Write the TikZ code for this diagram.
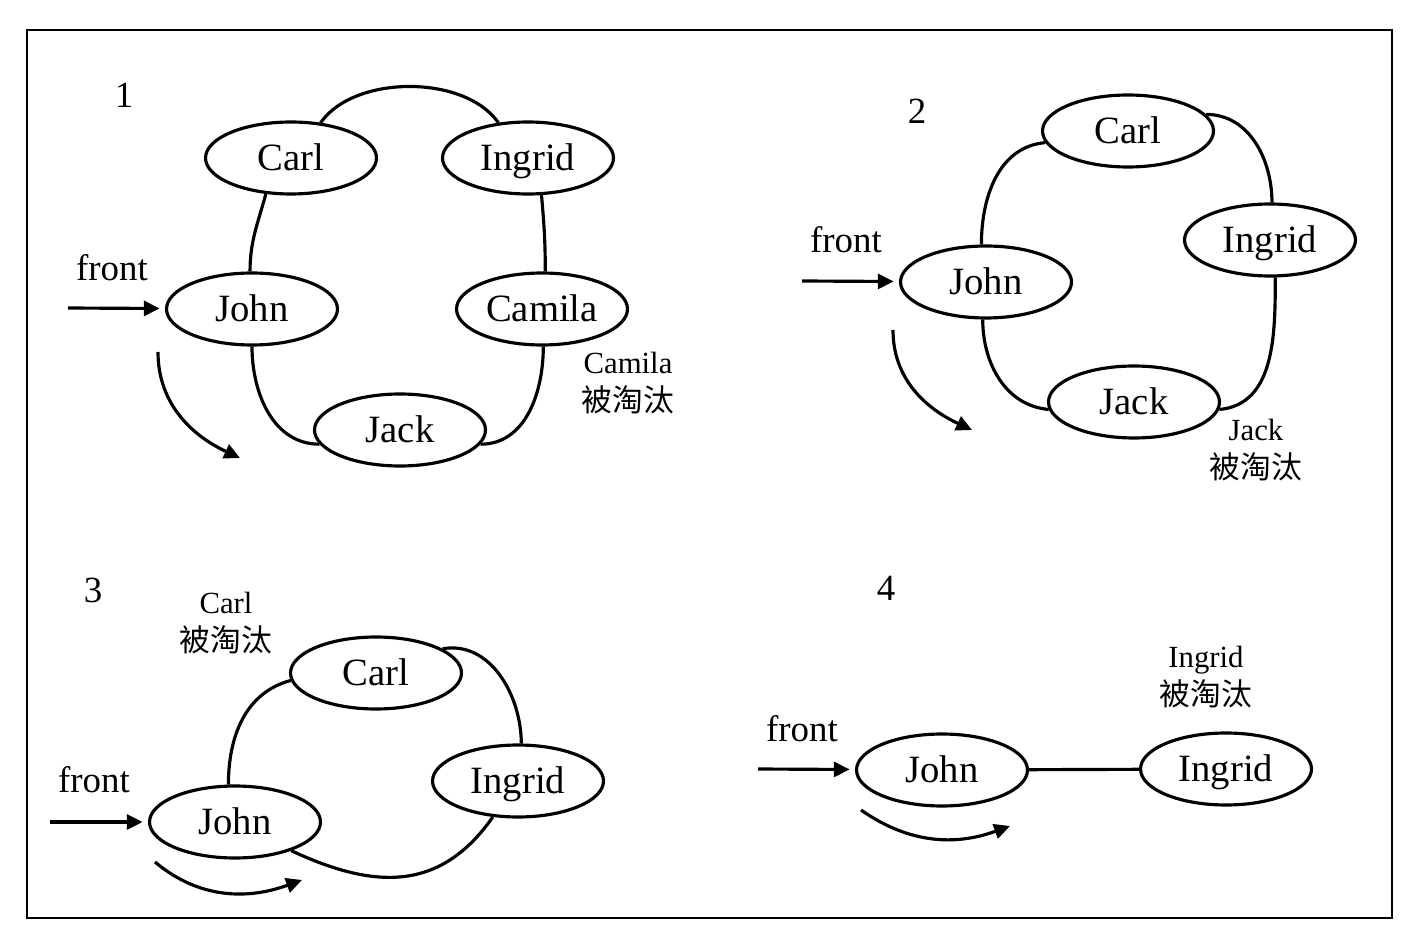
\documentclass[tikz,border=0pt]{standalone}
\usepackage{fontspec}
\setmainfont{Liberation Serif}
\newfontfamily\cjk{Noto Sans CJK SC}
\usetikzlibrary{shapes.geometric,arrows.meta}
\begin{document}
\begin{tikzpicture}[x=0.02cm,y=-0.02cm,
  person/.style={ellipse,draw,line width=1.8pt,minimum width=3.42cm,minimum height=1.44cm,inner sep=0pt,text height=14.5pt,text depth=0pt,font=\fontsize{22}{26}\selectfont},
  link/.style={line width=1.8pt},
  arr/.style={line width=1.8pt,-{Triangle[length=9pt,width=8.5pt]}},
  lbl/.style={font=\fontsize{21}{25}\selectfont,inner sep=0pt},
  elim/.style={font=\fontsize{17.5}{21.5}\selectfont,align=center,inner sep=0pt}]
\useasboundingbox (0,0) rectangle (1420,952);
\draw[line width=1.1pt] (27,30) rectangle (1392,918);

% ---------- Panel 1 ----------
\node[lbl] (n1) at (124,95) {1};
\node[person] (carl1) at (291,158) {Carl};
\node[person] (ingrid1) at (528,158) {Ingrid};
\node[person] (john1) at (252,309) {John};
\node[person] (camila1) at (542,309) {Camila};
\node[person] (jack1) at (400,430) {Jack};
\node[lbl] (fr1) at (112,268) {front};
\coordinate (f1) at (68,308);
\draw[arr,shorten >=3pt] (f1) -- (john1);
\draw[link] (carl1.50) to[out=55,in=125,looseness=0.85] (ingrid1.130);
\draw[link] (carl1.-125) to[out=-105,in=90] (john1.93);
\draw[link] (ingrid1.-70) to[out=-85,in=90] (camila1.85);
\draw[link] (john1.-90) to[out=-90,in=180] (jack1.-170);
\draw[link] (camila1.-88) to[out=-90,in=0] (jack1.-10);
\coordinate (r1a) at (158,352);
\coordinate (r1b) at (240,458);
\draw[arr] (r1a) to[out=-90,in=155] (r1b);
\node[elim] (e1) at (628,383) {Camila\\{\cjk 被淘汰}};

% ---------- Panel 2 ----------
\node[lbl] (n2) at (917,111) {2};
\node[person] (carl2) at (1128,131) {Carl};
\node[person] (ingrid2) at (1270,240) {Ingrid};
\node[person] (john2) at (986,282) {John};
\node[person] (jack2) at (1134,402) {Jack};
\node[lbl] (fr2) at (846,240) {front};
\coordinate (f2) at (802,281);
\draw[arr,shorten >=3pt] (f2) -- (john2);
\draw[link] (john2.97) to[out=90,in=185] (carl2.188);
\draw[link] (carl2.12) to[out=0,in=90] (ingrid2.87);
\draw[link] (ingrid2.-82) to[out=-90,in=5] (jack2.-5);
\draw[link] (john2.-95) to[out=-90,in=175] (jack2.-175);
\coordinate (r2a) at (893,330);
\coordinate (r2b) at (972,430);
\draw[arr] (r2a) to[out=-90,in=155] (r2b);
\node[elim] (e2) at (1256,450) {Jack\\{\cjk 被淘汰}};

% ---------- Panel 3 ----------
\node[lbl] (n3) at (93,590) {3};
\node[elim] (e3) at (226,623) {Carl\\{\cjk 被淘汰}};
\node[person] (carl3) at (376,673) {Carl};
\node[person] (ingrid3) at (518,781) {Ingrid};
\node[person] (john3) at (235,822) {John};
\node[lbl] (fr3) at (94,780) {front};
\coordinate (f3) at (50,822);
\draw[arr,shorten >=3pt] (f3) -- (john3);
\draw[link] (john3.100) to[out=90,in=195] (carl3.185);
\draw[link] (carl3.20) to[out=10,in=90] (ingrid3.85);
\draw[link] (john3.-27) to[out=-25,in=-125,looseness=1.15] (ingrid3.-125);
\coordinate (r3a) at (155,862);
\coordinate (r3b) at (302,880);
\draw[arr] (r3a) to[out=-40,in=200] (r3b);

% ---------- Panel 4 ----------
\node[lbl] (n4) at (886,588) {4};
\node[elim] (e4) at (1206,677) {Ingrid\\{\cjk 被淘汰}};
\node[person] (john4) at (942,770) {John};
\node[person] (ingrid4) at (1226,769) {Ingrid};
\node[lbl] (fr4) at (802,729) {front};
\coordinate (f4) at (758,769);
\draw[arr,shorten >=3pt] (f4) -- (john4);
\draw[link] (john4) -- (ingrid4);
\coordinate (r4a) at (861,810);
\coordinate (r4b) at (1010,826);
\draw[arr] (r4a) to[out=-35,in=200] (r4b);
\end{tikzpicture}
\end{document}
